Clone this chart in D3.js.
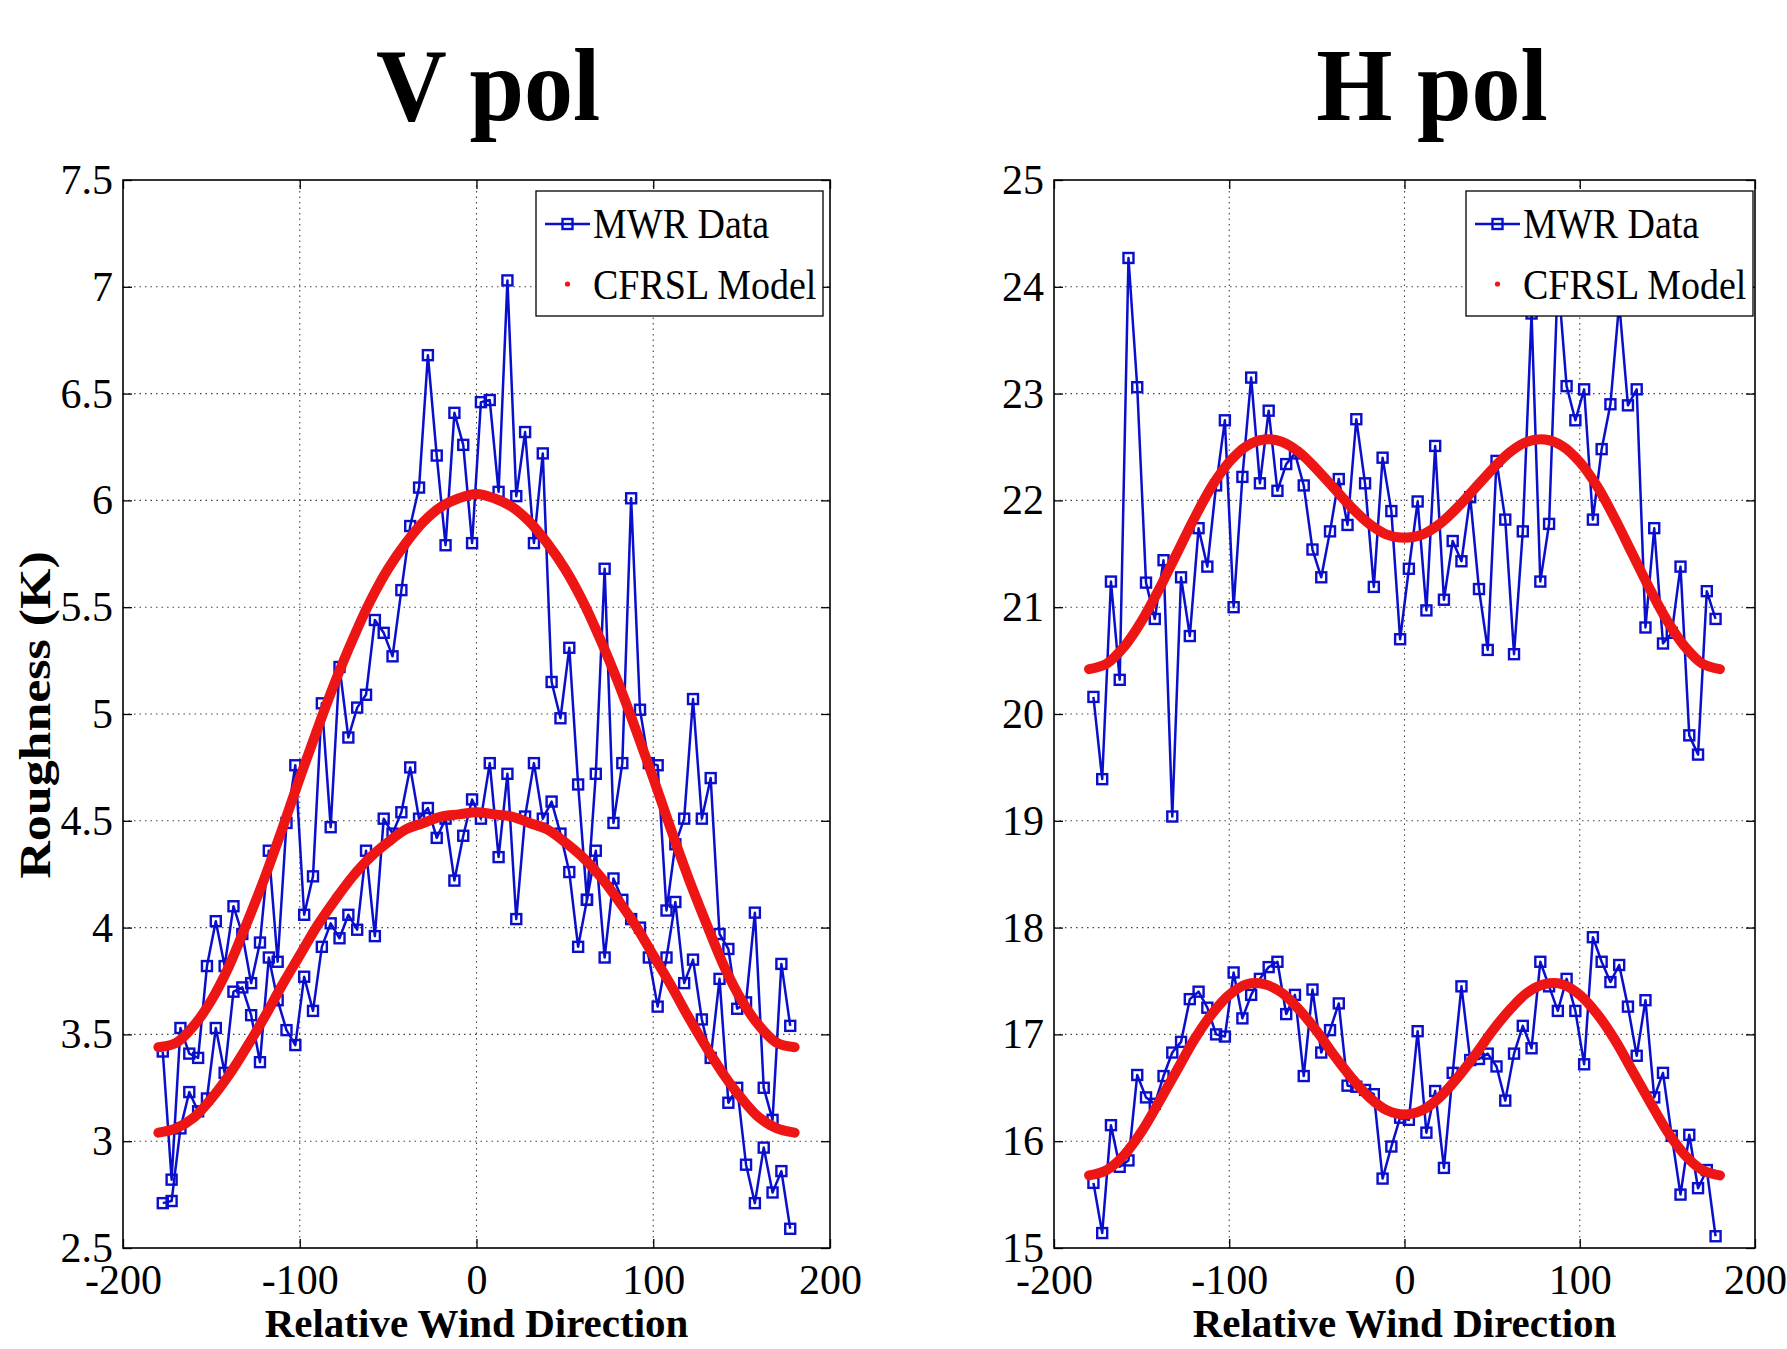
<!DOCTYPE html>
<html>
<head>
<meta charset="utf-8">
<script src="https://cdn.jsdelivr.net/npm/d3@7"></script>
<style>
  body { margin: 0; background: #fff; }
  svg text { font-family: "Liberation Serif", "Times New Roman", serif; }
</style>
</head>
<body>
<div id="chart"></div>
<script>
//-----------------------------DATA-----------------------------//
// relative wind direction of each MWR bin (deg)
const angles = [-177.5, -172.5, -167.5, -162.5, -157.5, -152.5, -147.5, -142.5, -137.5, -132.5,
  -127.5, -122.5, -117.5, -112.5, -107.5, -102.5, -97.5, -92.5, -87.5, -82.5,
  -77.5, -72.5, -67.5, -62.5, -57.5, -52.5, -47.5, -42.5, -37.5, -32.5,
  -27.5, -22.5, -17.5, -12.5, -7.5, -2.5, 2.5, 7.5, 12.5, 17.5,
  22.5, 27.5, 32.5, 37.5, 42.5, 47.5, 52.5, 57.5, 62.5, 67.5,
  72.5, 77.5, 82.5, 87.5, 92.5, 97.5, 102.5, 107.5, 112.5, 117.5,
  122.5, 127.5, 132.5, 137.5, 142.5, 147.5, 152.5, 157.5, 162.5, 167.5,
  172.5, 177.5];

// V pol MWR data, upper and lower wind speed
const vpolHigh = [3.42, 2.82, 3.53, 3.41, 3.39, 3.82, 4.03, 3.82, 4.10, 3.97,
  3.74, 3.93, 4.36, 3.84, 4.49, 4.76, 4.06, 4.24, 5.05, 4.47,
  5.22, 4.89, 5.03, 5.09, 5.44, 5.38, 5.27, 5.58, 5.88, 6.06,
  6.68, 6.21, 5.79, 6.41, 6.26, 5.80, 6.46, 6.47, 6.04, 7.03,
  6.02, 6.32, 5.80, 6.22, 5.15, 4.98, 5.31, 4.67, 4.13, 4.72,
  5.68, 4.49, 4.77, 6.01, 5.02, 4.77, 4.76, 4.08, 4.39, 4.51,
  5.07, 4.51, 4.70, 3.97, 3.90, 3.62, 3.65, 4.07, 3.25, 3.10,
  3.83, 3.54];
const vpolLow = [2.71, 2.72, 3.06, 3.23, 3.14, 3.20, 3.53, 3.32, 3.70, 3.72,
  3.59, 3.37, 3.86, 3.66, 3.52, 3.45, 3.77, 3.61, 3.91, 4.02,
  3.95, 4.06, 3.99, 4.36, 3.96, 4.51, 4.44, 4.54, 4.75, 4.51,
  4.56, 4.42, 4.51, 4.22, 4.43, 4.60, 4.51, 4.77, 4.33, 4.72,
  4.04, 4.52, 4.77, 4.51, 4.59, 4.44, 4.26, 3.91, 4.13, 4.36,
  3.86, 4.23, 4.13, 4.04, 4.00, 3.86, 3.63, 3.86, 4.12, 3.74,
  3.85, 3.57, 3.39, 3.76, 3.18, 3.25, 2.89, 2.71, 2.97, 2.76,
  2.86, 2.59];

// H pol MWR data, upper and lower wind speed
const hpolHigh = [20.16, 19.39, 21.24, 20.32, 24.27, 23.06, 21.23, 20.89, 21.44, 19.04,
  21.28, 20.73, 21.74, 21.38, 22.14, 22.75, 21.00, 22.22, 23.15, 22.16,
  22.84, 22.09, 22.34, 22.44, 22.14, 21.54, 21.28, 21.71, 22.20, 21.77,
  22.76, 22.16, 21.19, 22.40, 21.90, 20.70, 21.36, 21.99, 20.97, 22.51,
  21.07, 21.62, 21.43, 22.03, 21.17, 20.60, 22.37, 21.82, 20.56, 21.71,
  23.75, 21.24, 21.78, 24.10, 23.07, 22.75, 23.04, 21.82, 22.48, 22.90,
  23.85, 22.89, 23.04, 20.81, 21.74, 20.66, 20.76, 21.38, 19.80, 19.62,
  21.15, 20.89];
const hpolLow = [15.61, 15.14, 16.15, 15.76, 15.82, 16.62, 16.41, 16.35, 16.61, 16.83,
  16.93, 17.33, 17.40, 17.25, 17.00, 16.98, 17.58, 17.15, 17.37, 17.52,
  17.63, 17.68, 17.19, 17.37, 16.61, 17.42, 16.83, 17.04, 17.29, 16.52,
  16.51, 16.48, 16.44, 15.65, 15.95, 16.22, 16.20, 17.03, 16.08, 16.47,
  15.75, 16.64, 17.45, 16.76, 16.77, 16.82, 16.70, 16.38, 16.82, 17.08,
  16.87, 17.68, 17.45, 17.22, 17.52, 17.22, 16.72, 17.91, 17.68, 17.49,
  17.65, 17.26, 16.80, 17.32, 16.41, 16.64, 16.05, 15.50, 16.06, 15.56,
  15.73, 15.11];

// CFRSL model curves, read every 10 deg
const modelAngles = [-180, -170, -160, -150, -140, -130, -120, -110, -100, -90,
  -80, -70, -60, -50, -40, -30, -20, -10, 0, 10,
  20, 30, 40, 50, 60, 70, 80, 90, 100, 110,
  120, 130, 140, 150, 160, 170, 180];
const vpolModelHigh = [3.44, 3.46, 3.54, 3.66, 3.82, 4.02, 4.23, 4.46, 4.70, 4.93,
  5.15, 5.35, 5.53, 5.68, 5.80, 5.90, 5.97, 6.01, 6.03, 6.01,
  5.97, 5.90, 5.80, 5.68, 5.53, 5.35, 5.15, 4.93, 4.70, 4.46,
  4.23, 4.02, 3.82, 3.66, 3.54, 3.46, 3.44];
const vpolModelLow = [3.04, 3.06, 3.11, 3.20, 3.31, 3.44, 3.58, 3.73, 3.87, 4.01,
  4.13, 4.24, 4.33, 4.40, 4.46, 4.49, 4.52, 4.53, 4.54, 4.53,
  4.52, 4.49, 4.46, 4.40, 4.33, 4.24, 4.13, 4.01, 3.87, 3.73,
  3.58, 3.44, 3.31, 3.20, 3.11, 3.06, 3.04];
const hpolModelHigh = [20.42, 20.47, 20.63, 20.87, 21.17, 21.50, 21.83, 22.13, 22.36, 22.51,
  22.57, 22.55, 22.45, 22.29, 22.11, 21.93, 21.78, 21.68, 21.65, 21.68,
  21.78, 21.93, 22.11, 22.29, 22.45, 22.55, 22.57, 22.51, 22.36, 22.13,
  21.83, 21.50, 21.17, 20.87, 20.63, 20.47, 20.42];
const hpolModelLow = [15.68, 15.73, 15.87, 16.09, 16.37, 16.66, 16.95, 17.19, 17.37, 17.47,
  17.47, 17.39, 17.23, 17.03, 16.80, 16.59, 16.41, 16.29, 16.25, 16.29,
  16.41, 16.59, 16.80, 17.03, 17.23, 17.39, 17.47, 17.47, 17.37, 17.19,
  16.95, 16.66, 16.37, 16.09, 15.87, 15.73, 15.68];

// tick labels
const xTicks = [-200, -100, 0, 100, 200];
const vpolTicks = [2.5, 3, 3.5, 4, 4.5, 5, 5.5, 6, 6.5, 7, 7.5];
const hpolTicks = [15, 16, 17, 18, 19, 20, 21, 22, 23, 24, 25];

//----------------------------SETUP-----------------------------//
const width = 1787;
const height = 1349;
const blue = "#0a0fcc";
const red = "#ee1515";
const serif = "'Liberation Serif', 'Times New Roman', serif";

const svg = d3.select("#chart").append("svg")
    .attr("width", width)
    .attr("height", height)
    .style("background", "#fff");

//----------------------------PANEL-----------------------------//
function drawPanel(p) {
  const top = 180, bottom = 1248;
  const x = d3.scaleLinear().domain([-200, 200]).range([p.left, p.right]);
  const y = d3.scaleLinear().domain([p.ticks[0], p.ticks[p.ticks.length - 1]]).range([bottom, top]);
  const g = svg.append("g");

  // grid
  g.selectAll(".gridx").data(xTicks.slice(1, -1)).enter().append("line")
      .attr("x1", d => x(d)).attr("x2", d => x(d))
      .attr("y1", top).attr("y2", bottom)
      .attr("stroke", "#444").attr("stroke-width", 1.1).attr("stroke-dasharray", "1.5,4");
  g.selectAll(".gridy").data(p.ticks.slice(1, -1)).enter().append("line")
      .attr("x1", p.left).attr("x2", p.right)
      .attr("y1", d => y(d)).attr("y2", d => y(d))
      .attr("stroke", "#444").attr("stroke-width", 1.1).attr("stroke-dasharray", "1.5,4");

  // MWR data
  const line = d3.line()
      .x((d, i) => x(angles[i]))
      .y(d => y(d));
  [p.high, p.low].forEach(function(s) {
    g.append("path")
        .attr("d", line(s))
        .attr("fill", "none")
        .attr("stroke", blue)
        .attr("stroke-width", 2.5)
        .attr("stroke-linejoin", "round");
    g.append("g").selectAll("rect").data(s).enter().append("rect")
        .attr("x", (d, i) => x(angles[i]) - 5)
        .attr("y", d => y(d) - 5)
        .attr("width", 10).attr("height", 10)
        .attr("fill", "none")
        .attr("stroke", blue)
        .attr("stroke-width", 2.4);
  });

  // CFRSL model
  const mline = d3.line()
      .x((d, i) => x(modelAngles[i]))
      .y(d => y(d))
      .curve(d3.curveCatmullRom);
  [p.modelHigh, p.modelLow].forEach(function(s) {
    g.append("path")
        .attr("d", mline(s))
        .attr("fill", "none")
        .attr("stroke", red)
        .attr("stroke-width", 10)
        .attr("stroke-linecap", "round");
  });

  // axes
  const styleAxis = function(a) {
    a.select(".domain").remove();
    a.selectAll(".tick line").attr("stroke", "#000").attr("stroke-width", 1.3);
    a.selectAll("text")
        .attr("font-family", serif).attr("font-size", 42).attr("fill", "#000");
  };
  g.append("g")
      .attr("transform", "translate(0," + bottom + ")")
      .call(d3.axisBottom(x).tickValues(xTicks).tickSizeInner(-9).tickSizeOuter(0)
        .tickPadding(16).tickFormat(d => String(d)))
      .call(styleAxis);
  g.append("g")
      .attr("transform", "translate(0," + top + ")")
      .call(d3.axisTop(x).tickValues(xTicks).tickSizeInner(-9).tickSizeOuter(0).tickFormat(""))
      .call(styleAxis);
  g.append("g")
      .attr("transform", "translate(" + p.left + ",0)")
      .call(d3.axisLeft(y).tickValues(p.ticks).tickSizeInner(-9).tickSizeOuter(0)
        .tickPadding(10).tickFormat(d => String(d)))
      .call(styleAxis);
  g.append("g")
      .attr("transform", "translate(" + p.right + ",0)")
      .call(d3.axisRight(y).tickValues(p.ticks).tickSizeInner(-9).tickSizeOuter(0).tickFormat(""))
      .call(styleAxis);

  g.append("rect")
      .attr("x", p.left).attr("y", top)
      .attr("width", p.right - p.left).attr("height", bottom - top)
      .attr("fill", "none").attr("stroke", "#000").attr("stroke-width", 1.6);

  // legend
  const lg = g.append("g").attr("transform", "translate(" + p.legendX + ",191)");
  lg.append("rect")
      .attr("width", 287).attr("height", 125)
      .attr("fill", "#fff").attr("stroke", "#000").attr("stroke-width", 1.3);
  lg.append("line")
      .attr("x1", 9).attr("x2", 54).attr("y1", 33).attr("y2", 33)
      .attr("stroke", blue).attr("stroke-width", 2.4);
  lg.append("rect")
      .attr("x", 26.5).attr("y", 28).attr("width", 10).attr("height", 10)
      .attr("fill", "none").attr("stroke", blue).attr("stroke-width", 2.4);
  lg.append("circle")
      .attr("cx", 31.5).attr("cy", 93).attr("r", 2.6).attr("fill", red);
  lg.append("text").attr("transform", "translate(57,47) scale(1,1.1)")
      .attr("font-size", 38).text("MWR Data");
  lg.append("text").attr("transform", "translate(57,108) scale(1,1.1)")
      .attr("font-size", 38).text("CFRSL Model");

  // titles and labels
  svg.append("text")
      .attr("transform", "translate(" + p.titleX + ",120) scale(1,1.05)")
      .attr("text-anchor", "middle")
      .attr("font-size", 98).attr("font-weight", "bold")
      .text(p.title);
  svg.append("text")
      .attr("x", (p.left + p.right) / 2).attr("y", 1337)
      .attr("text-anchor", "middle")
      .attr("font-size", 41).attr("font-weight", "bold")
      .text("Relative Wind Direction");
}

drawPanel({
  title: "V pol", titleX: 488,
  left: 123, right: 830, legendX: 536,
  ticks: vpolTicks,
  high: vpolHigh, low: vpolLow,
  modelHigh: vpolModelHigh, modelLow: vpolModelLow
});

drawPanel({
  title: "H pol", titleX: 1432,
  left: 1054, right: 1755, legendX: 1466,
  ticks: hpolTicks,
  high: hpolHigh, low: hpolLow,
  modelHigh: hpolModelHigh, modelLow: hpolModelLow
});

svg.append("text")
    .attr("transform", "translate(50,715) rotate(-90) scale(1.18,1)")
    .attr("text-anchor", "middle")
    .attr("font-size", 44).attr("font-weight", "bold")
    .text("Roughness (K)");
</script>
</body>
</html>
